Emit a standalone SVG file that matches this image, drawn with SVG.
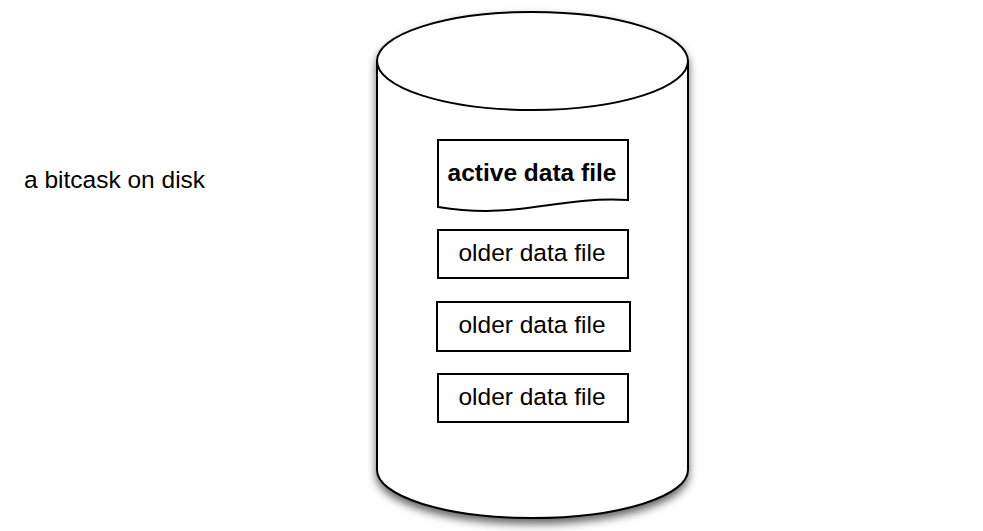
<svg xmlns="http://www.w3.org/2000/svg" width="983" height="531" viewBox="0 0 983 531">
<style>
text{font-family:"Liberation Sans",Arial,Helvetica,sans-serif;font-size:24.5px;fill:#000}
.box{fill:#fff;stroke:#000;stroke-width:2}
.b{font-weight:bold}
</style>
<defs>
<filter id="sh" x="-10%" y="-10%" width="120%" height="125%">
<feDropShadow dx="0" dy="5" stdDeviation="4" flood-color="#000" flood-opacity="0.6"/>
</filter>
</defs>
<rect width="983" height="531" fill="#fff"/>
<text x="24" y="188">a bitcask on disk</text>
<g id="disk">
<path d="M377,61 L377,470 A155.5,48 0 0 0 688,470 L688,61 A155.5,49 0 0 0 377,61 Z" fill="#fff" stroke="#000" stroke-width="2" filter="url(#sh)"/>
<path d="M377,61 A155.5,49 0 0 0 688,61" fill="none" stroke="#000" stroke-width="2"/>
</g>
<g id="active">
<path class="box" d="M438,140 H628 V200 C555,196 520,220 438,207 Z"/>
<text class="b" x="532" y="181" text-anchor="middle">active data file</text>
</g>
<g id="older1">
<rect class="box" x="438" y="230" width="190" height="48"/>
<text x="532" y="261" text-anchor="middle">older data file</text>
</g>
<g id="older2">
<rect class="box" x="437" y="302" width="193" height="49"/>
<text x="532" y="333" text-anchor="middle">older data file</text>
</g>
<g id="older3">
<rect class="box" x="438" y="374" width="190" height="48"/>
<text x="532" y="405" text-anchor="middle">older data file</text>
</g>
<g id="connectors"/>
</svg>
